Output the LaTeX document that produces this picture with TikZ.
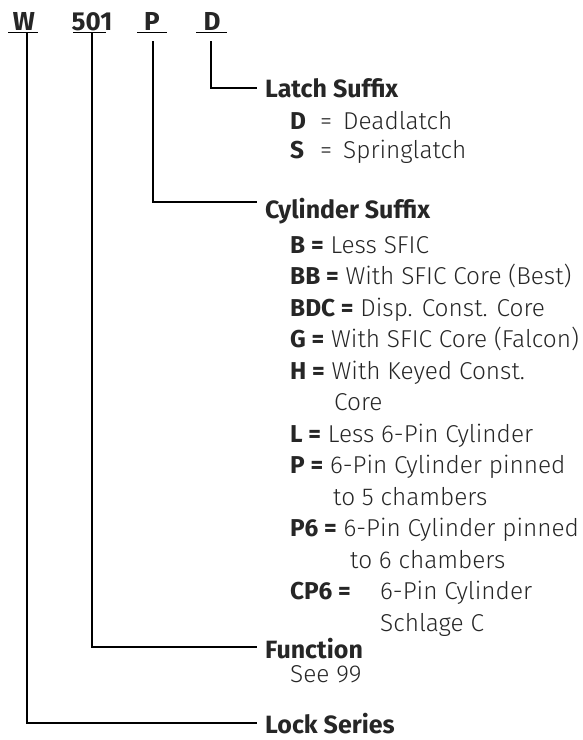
\documentclass[tikz,border=0pt]{standalone}
\usepackage{fontspec}
\setmainfont{Fira Sans}[UprightFont=* Light, BoldFont=* Bold]
\begin{document}
\begin{tikzpicture}[x=1pt,y=-1pt,
  ln/.style={line width=2pt, line cap=rect},
  ul/.style={line width=1.5pt},
  hd/.style={font=\fontsize{26}{26}\selectfont\bfseries, anchor=base, inner sep=0pt, text=black!85},
  ttl/.style={font=\fontsize{25}{25}\selectfont\bfseries, anchor=base west, inner sep=0pt, text=black!85},
  key/.style={font=\fontsize{24.4}{24.4}\selectfont\bfseries, anchor=base west, inner sep=0pt, text=black!85},
  itm/.style={font=\fontsize{24.4}{24.4}\selectfont, anchor=base west, inner sep=0pt, text=black!85}]
\useasboundingbox (0,0) rectangle (582,740);
% header
\node[hd] (w) at (24,30) {W};
\node[hd] (n501) at (92,30) {501};
\node[hd] (p) at (152,30) {P};
\node[hd] (d) at (212,30) {D};
\draw[ul] (8,32.5) -- (38,32.5);
\draw[ul] (73,32.5) -- (106,32.5);
\draw[ul] (137,32.5) -- (167,32.5);
\draw[ul] (196,32.5) -- (227,32.5);
% connector coordinates
\coordinate (wtop) at (27,32.5);
\coordinate (ntop) at (92,32.5);
\coordinate (ptop) at (153,42);
\coordinate (dtop) at (211,42);
\coordinate (latchend) at (256,88);
\coordinate (cylend) at (256,202);
\coordinate (funcend) at (256,647);
\coordinate (lockend) at (256,723);
\draw[ln] (dtop) |- (latchend);
\draw[ln] (ptop) |- (cylend);
\draw[ln] (ntop) |- (funcend);
\draw[ln] (wtop) |- (lockend);
% Latch suffix
\node[ttl] (latch) at (265,97) {Latch Suffix};
\node[key] (kd) at (290,129) {D};
\node[itm] (eqd) at (320,129) {=};
\node[itm] (vd) at (343,129) {Deadlatch};
\node[key] (ks) at (290,158) {S};
\node[itm] (eqs) at (320,158) {=};
\node[itm] (vs) at (343,158) {Springlatch};
% Cylinder suffix
\node[ttl] (cyl) at (265,218) {Cylinder Suffix};
\node[itm] (rb) at (290,253) {\textbf{B =} Less SFIC};
\node[itm] (rbb) at (290,284.5) {\textbf{BB =} With SFIC Core (Best)};
\node[itm] (rbdc) at (290,316) {\textbf{BDC =} Disp. Const. Core};
\node[itm] (rg) at (290,347.5) {\textbf{G =} With SFIC Core (Falcon)};
\node[itm] (rh) at (290,379) {\textbf{H =} With Keyed Const.};
\node[itm] (rh2) at (334,410.5) {Core};
\node[itm] (rl) at (290,442) {\textbf{L =} Less 6-Pin Cylinder};
\node[itm] (rp) at (290,473.5) {\textbf{P =} 6-Pin Cylinder pinned};
\node[itm] (rp2) at (333,505) {to 5 chambers};
\node[itm] (rp6) at (290,536.5) {\textbf{P6 =} 6-Pin Cylinder pinned};
\node[itm] (rp62) at (350,568) {to 6 chambers};
\node[key] (kcp6) at (290,599.5) {CP6 =};
\node[itm] (rcp6) at (380,599.5) {6-Pin Cylinder};
\node[itm] (rcp62) at (380,631) {Schlage C};
% Function
\node[ttl] (func) at (265,658) {Function};
\node[itm] (see) at (290,682) {See 99};
% Lock series
\node[ttl] (lock) at (265,733) {Lock Series};
\end{tikzpicture}
\end{document}
